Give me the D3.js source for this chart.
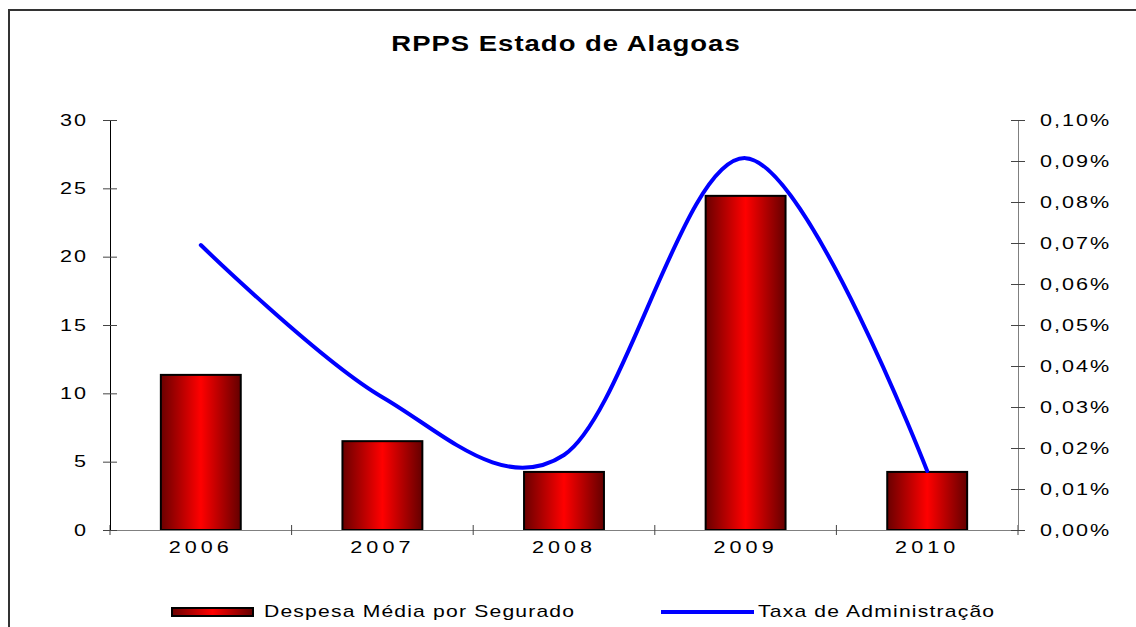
<!DOCTYPE html>
<html lang="en">
<head>
    <meta charset="UTF-8">
    <script src="https://cdn.jsdelivr.net/npm/d3@7"></script>
    <title>RPPS Estado de Alagoas</title>
    <style>
        html, body {
            margin: 0px;
            padding: 0px;
            background-color: #ffffff;
            font-family: "Liberation Sans", Arial, sans-serif;
        }
        svg text {
            fill: #000;
        }
        .tick-label {
            font-size: 16px;
            letter-spacing: 1.5px;
        }
        .x-label {
            font-size: 16px;
            letter-spacing: 3px;
        }
        .legend-label {
            font-size: 16px;
            letter-spacing: 0.9px;
        }
    </style>
</head>
<body>
    <div id="chart"></div>

    <script>
        // data
        let years = ['2006', '2007', '2008', '2009', '2010'];
        let despesa = [11.35, 6.5, 4.25, 24.45, 4.25];     // left axis
        let taxa = [0.0695, 0.0324, 0.0183, 0.0907, 0.0144]; // right axis, in %
        let leftTicks = [0, 5, 10, 15, 20, 25, 30];
        let rightTicks = [0, 0.01, 0.02, 0.03, 0.04, 0.05, 0.06, 0.07, 0.08, 0.09, 0.10];

        let width = 1136;
        let height = 627;

        let margin = {
            top: 120,
            bottom: 97,
            left: 110,
            right: 118
        }

        let svg = d3.select('#chart').append('svg')
            .attr('width', width)
            .attr('height', height);

        // stretch text horizontally around its x anchor (excel-ish wide glyphs)
        function stretch(sel, sx) {
            sel.each(function() {
                let t = d3.select(this);
                let x = +t.attr('x') || 0;
                t.attr('transform', `translate(${x * (1 - sx)},0) scale(${sx},1)`);
            });
        }

        let defs = svg.append('defs');
        let grad = defs.append('linearGradient')
            .attr('id', 'barGrad')
            .attr('x1', '0%').attr('x2', '100%')
            .attr('y1', '0%').attr('y2', '0%');
        grad.append('stop').attr('offset', '0%').attr('stop-color', '#6a0000');
        grad.append('stop').attr('offset', '50%').attr('stop-color', '#ff0000');
        grad.append('stop').attr('offset', '100%').attr('stop-color', '#640000');

        // outer frame
        svg.append('rect')
            .attr('x', 9).attr('y', 10)
            .attr('width', 1200).attr('height', 700)
            .attr('fill', 'none')
            .attr('stroke', '#333')
            .attr('stroke-width', 2);

        // title
        let title = svg.append('text')
            .attr('x', 566)
            .attr('y', 51)
            .attr('text-anchor', 'middle')
            .style('font-size', '22px')
            .style('font-weight', 'bold')
            .style('letter-spacing', '0.8px')
            .text('RPPS Estado de Alagoas');
        stretch(title, 1.25);

        let x0 = margin.left;
        let x1 = width - margin.right;
        let yBottom = height - margin.bottom;

        let x = d3.scaleBand()
            .domain(years)
            .range([x0, x1])
            .paddingInner(0.56)
            .paddingOuter(0.28);

        let yLeft = d3.scaleLinear()
            .domain([0, 30])
            .range([yBottom, margin.top]);

        let yRight = d3.scaleLinear()
            .domain([0, 0.10])
            .range([yBottom, margin.top]);

        // bars
        svg.append('g')
            .selectAll('rect')
            .data(years)
            .join('rect')
            .attr('x', d => x(d))
            .attr('y', (d, i) => yLeft(despesa[i]))
            .attr('width', x.bandwidth())
            .attr('height', (d, i) => yBottom - yLeft(despesa[i]))
            .attr('fill', 'url(#barGrad)')
            .attr('stroke', '#000')
            .attr('stroke-width', 2);

        // bottom axis
        let gx = svg.append('g')
            .attr('transform', `translate(0,${yBottom})`)
            .call(d3.axisBottom(x).tickSize(0).tickPadding(0));
        gx.select('.domain').attr('stroke', '#808080');
        gx.selectAll('text')
            .attr('class', 'x-label')
            .attr('y', 23)
            .attr('dy', 0)
            .style('font-family', '"Liberation Sans", Arial, sans-serif');
        stretch(gx.selectAll('text'), 1.35);
        // category separators
        let step = x.step();
        let seps = d3.range(years.length + 1).map(k => x0 + k * step);
        svg.append('g')
            .selectAll('line')
            .data(seps)
            .join('line')
            .attr('x1', d => d).attr('x2', d => d)
            .attr('y1', yBottom - 5).attr('y2', yBottom + 5)
            .attr('stroke', '#444');

        // left axis
        let gl = svg.append('g')
            .attr('transform', `translate(${x0},0)`)
            .call(d3.axisLeft(yLeft).tickValues(leftTicks).tickFormat(d3.format('d')).tickSizeOuter(0));
        gl.select('.domain').attr('stroke', '#000');
        gl.selectAll('.tick line').attr('x1', -7).attr('x2', 7).attr('stroke', '#444');
        gl.selectAll('.tick text')
            .attr('class', 'tick-label')
            .attr('x', -22)
            .style('font-family', '"Liberation Sans", Arial, sans-serif');
        stretch(gl.selectAll('.tick text'), 1.35);

        // right axis
        let pct = d => d.toFixed(2).replace('.', ',') + '%';
        let gr = svg.append('g')
            .attr('transform', `translate(${x1},0)`)
            .call(d3.axisRight(yRight).tickValues(rightTicks).tickFormat(pct).tickSizeOuter(0));
        gr.select('.domain').attr('stroke', '#808080');
        gr.selectAll('.tick line').attr('x1', -7).attr('x2', 7).attr('stroke', '#444');
        gr.selectAll('.tick text')
            .attr('class', 'tick-label')
            .attr('x', 22)
            .style('font-family', '"Liberation Sans", Arial, sans-serif');
        stretch(gr.selectAll('.tick text'), 1.35);

        // line
        let line = d3.line()
            .x((d, i) => x(years[i]) + x.bandwidth() / 2)
            .y(d => yRight(d))
            .curve(d3.curveCatmullRom.alpha(0));

        svg.append('path')
            .datum(taxa)
            .attr('d', line)
            .attr('fill', 'none')
            .attr('stroke', '#0000ff')
            .attr('stroke-width', 4)
            .attr('stroke-linecap', 'round');

        // legend
        let legend = svg.append('g');
        legend.append('rect')
            .attr('x', 172).attr('y', 608)
            .attr('width', 81).attr('height', 8)
            .attr('fill', 'url(#barGrad)')
            .attr('stroke', '#000')
            .attr('stroke-width', 2);
        let l1 = legend.append('text')
            .attr('class', 'legend-label')
            .attr('x', 264).attr('y', 617)
            .text('Despesa Média por Segurado');
        stretch(l1, 1.32);

        legend.append('line')
            .attr('x1', 661).attr('x2', 754)
            .attr('y1', 612).attr('y2', 612)
            .attr('stroke', '#0000ff')
            .attr('stroke-width', 4);
        let l2 = legend.append('text')
            .attr('class', 'legend-label')
            .attr('x', 758).attr('y', 617)
            .text('Taxa de Administração');
        stretch(l2, 1.32);
    </script>
</body>
</html>
